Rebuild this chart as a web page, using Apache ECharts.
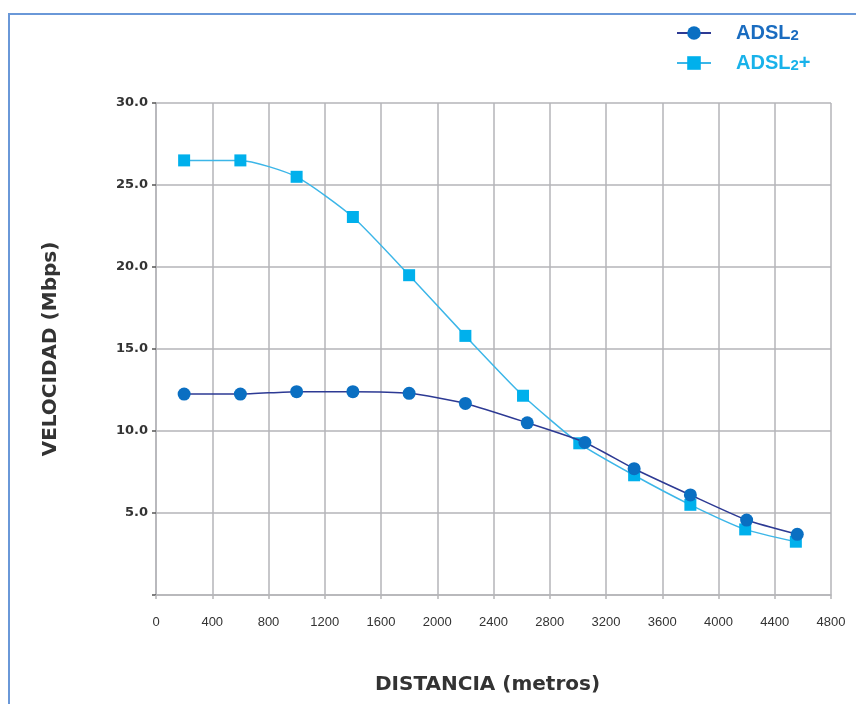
<!DOCTYPE html>
<html>
<head>
<meta charset="utf-8">
<script src="https://cdn.jsdelivr.net/npm/echarts@6/dist/echarts.min.js"></script>
<style>
html,body{margin:0;padding:0;background:#fff;}
#frame{position:absolute;left:8px;top:13px;width:860px;height:700px;border-left:2px solid #6a98d8;border-top:2px solid #6a98d8;}
#chart{position:absolute;left:0;top:0;width:856px;height:704px;}
</style>
</head>
<body>
<div id="frame"></div>
<div id="chart"></div>
<script>
const seriesNames = ['ADSL2', 'ADSL2+'];
const adsl2X = [200, 600, 1000, 1400, 1800, 2200, 2640, 3050, 3400, 3800, 4200, 4560];
const adsl2Y = [12.25, 12.25, 12.4, 12.4, 12.3, 11.68, 10.5, 9.3, 7.7, 6.1, 4.57, 3.7];
const adsl2pX = [200, 600, 1000, 1400, 1800, 2200, 2610, 3010, 3400, 3800, 4190, 4550];
const adsl2pY = [26.5, 26.5, 25.5, 23.05, 19.5, 15.8, 12.15, 9.25, 7.3, 5.5, 4.0, 3.25];
const xTicks = [0, 400, 800, 1200, 1600, 2000, 2400, 2800, 3200, 3600, 4000, 4400, 4800];
const yTicks = [5.0, 10.0, 15.0, 20.0, 25.0, 30.0];

const pair = (xs, ys) => xs.map((x, i) => [x, ys[i]]);
const chart = echarts.init(document.getElementById('chart'));
const grid = '#b5b5b8';
const titleFont = '"DejaVu Sans", sans-serif';
chart.setOption({
  animation: false,
  grid: {left: 156, right: 25, top: 103, bottom: 109},
  legend: {
    orient: 'vertical', left: 671, top: 18, itemGap: 10,
    itemWidth: 34, itemHeight: 17,
    data: [
      {name: seriesNames[0], textStyle: {color: '#1a6cc0'}},
      {name: seriesNames[1], textStyle: {color: '#19b2ea'}}
    ],
    formatter: n => n === 'ADSL2+' ? '{a|ADSL}{b|2}{a|+}' : '{a|ADSL}{b|2}',
    textStyle: {
      padding: [0, 0, 0, 20],
      rich: {
        a: {fontSize: 20, fontWeight: 'bold', fontFamily: '"Liberation Sans Narrow", "Liberation Sans", sans-serif'},
        b: {fontSize: 15, fontWeight: 'bold', fontFamily: '"Liberation Sans Narrow", "Liberation Sans", sans-serif', padding: [5, 0, 0, 0]}
      }
    }
  },
  xAxis: {
    type: 'value', min: 0, max: 4800, interval: 400,
    name: 'DISTANCIA (metros)', nameLocation: 'middle', nameGap: 80,
    nameTextStyle: {fontSize: 20, fontWeight: 'bold', color: '#333', fontFamily: titleFont, padding: [0, 12, 0, 0]},
    axisLine: {lineStyle: {color: grid, width: 1.5}},
    axisTick: {show: true, length: 4, lineStyle: {color: grid, width: 1.5}},
    axisLabel: {
      margin: 21, fontSize: 13, color: '#333', fontFamily: '"Liberation Sans", Arial, sans-serif',
      formatter: v => xTicks.includes(v) ? String(v) : ''
    },
    splitLine: {lineStyle: {color: grid, width: 1.5}}
  },
  yAxis: {
    type: 'value', min: 0, max: 30, interval: 5,
    name: 'VELOCIDAD (Mbps)', nameLocation: 'middle', nameGap: 95, nameRotate: 90,
    nameTextStyle: {fontSize: 20, fontWeight: 'bold', color: '#333', fontFamily: titleFont},
    axisLine: {show: true, lineStyle: {color: grid, width: 1.5}},
    axisTick: {show: true, length: 4, lineStyle: {color: '#555', width: 1.5}},
    axisLabel: {
      margin: 8, fontSize: 13, fontWeight: 'bold', color: '#333', fontFamily: '"DejaVu Sans", sans-serif',
      formatter: v => yTicks.includes(v) ? v.toFixed(1) : ''
    },
    splitLine: {lineStyle: {color: grid, width: 1.5}}
  },
  series: [
    {
      name: seriesNames[1], type: 'line', data: pair(adsl2pX, adsl2pY), smooth: 0.2,
      symbol: 'rect', symbolSize: 12,
      lineStyle: {color: '#3cb6e8', width: 1.5},
      itemStyle: {color: '#00b0ec'}, z: 2
    },
    {
      name: seriesNames[0], type: 'line', data: pair(adsl2X, adsl2Y), smooth: 0.2,
      symbol: 'circle', symbolSize: 13,
      lineStyle: {color: '#2d3a94', width: 1.5},
      itemStyle: {color: '#0a6fc2'}, z: 3
    }
  ]
});
</script>
</body>
</html>
